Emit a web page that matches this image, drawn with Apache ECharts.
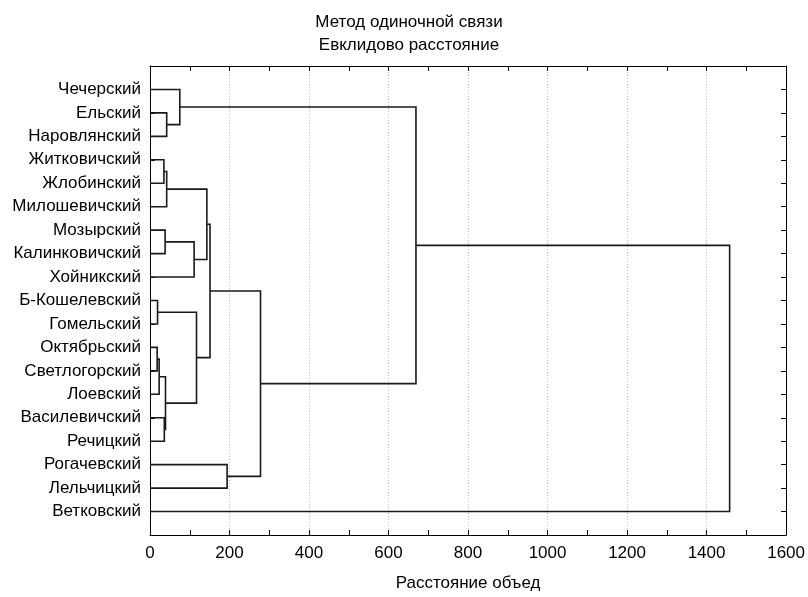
<!DOCTYPE html>
<html>
<head>
<meta charset="utf-8">
<script src="https://cdn.jsdelivr.net/npm/echarts@6.0.0/dist/echarts.min.js"></script>
<style>
  html, body { margin: 0; padding: 0; background: #fff; }
  #chart { width: 808px; height: 597px; }
</style>
</head>
<body>
<div id="chart"></div>
<script>
// листья дендрограммы сверху вниз
const leaves = ['Чечерский', 'Ельский', 'Наровлянский', 'Житковичский', 'Жлобинский',
  'Милошевичский', 'Мозырский', 'Калинковичский', 'Хойникский', 'Б-Кошелевский',
  'Гомельский', 'Октябрьский', 'Светлогорский', 'Лоевский', 'Василевичский',
  'Речицкий', 'Рогачевский', 'Лельчицкий', 'Ветковский']

// пары объединений: индекс < 19 — лист, иначе 19 + номер объединения
const pairs = [
  [11, 12], [9, 10], [19, 13], [3, 4], [14, 15], [6, 7], [21, 23], [22, 5],
  [1, 2], [0, 27], [24, 8], [20, 25], [26, 29], [31, 30], [16, 17], [32, 33],
  [28, 34], [35, 18]
]
// расстояние объединения
const mergeH = [18, 19, 23, 35, 36, 38, 39, 42, 42, 75, 111, 117, 143, 151, 194, 278, 669, 1458]

const xTicks = [0, 200, 400, 600, 800, 1000, 1200, 1400, 1600]

const n = leaves.length
const nodeX = []
const nodeY = []
for (let i = 0; i < n; i++) { nodeX.push(0); nodeY.push(i + 1) }
const links = []
pairs.forEach(([a, b], k) => {
  const h = mergeH[k]
  links.push([nodeX[a], nodeY[a], h, nodeY[b], nodeX[b]])
  nodeX.push(h)
  nodeY.push((nodeY[a] + nodeY[b]) / 2)
})

const font = "'Liberation Sans', Arial, sans-serif"
const fs = 17
const chart = echarts.init(document.getElementById('chart'))

const xBase = {
  type: 'value',
  min: 0,
  max: 1600,
  interval: 200,
  axisLine: { show: true, onZero: false, lineStyle: { color: '#000', width: 1 } },
  axisTick: { show: true, inside: true, length: 5, lineStyle: { color: '#000' } },
  minorTick: { show: true, splitNumber: 2, length: 5, lineStyle: { color: '#000' } }
}
const yBase = {
  type: 'value',
  min: 0,
  max: 20,
  interval: 1,
  inverse: true,
  axisLine: { show: true, onZero: false, lineStyle: { color: '#000', width: 1 } },
  axisTick: { show: true, inside: true, length: 5, lineStyle: { color: '#000' } },
  splitLine: { show: false }
}

chart.setOption({
  animation: false,
  textStyle: { fontFamily: font },
  grid: { left: 150, top: 66, width: 637, height: 471, containLabel: false },
  graphic: [
    { type: 'text', x: 409, y: 22.5, style: { text: 'Метод одиночной связи', fill: '#000', font: fs + 'px ' + font, textAlign: 'center', textVerticalAlign: 'middle' } },
    { type: 'text', x: 409, y: 45, style: { text: 'Евклидово расстояние', fill: '#000', font: fs + 'px ' + font, textAlign: 'center', textVerticalAlign: 'middle' } }
  ],
  xAxis: [
    Object.assign({}, xBase, {
      position: 'bottom',
      name: 'Расстояние объед',
      nameLocation: 'middle',
      nameGap: 40,
      nameTextStyle: { color: '#000', fontSize: fs, fontFamily: font },
      axisLabel: { color: '#000', fontSize: fs, margin: 10, fontFamily: font,
        formatter: v => xTicks.includes(v) ? String(v) : '' },
      splitLine: { show: true, lineStyle: { color: '#bdbdbd', type: [1, 2], width: 1 } }
    }),
    Object.assign({}, xBase, {
      position: 'top',
      axisLabel: { show: false },
      splitLine: { show: false }
    })
  ],
  yAxis: [
    Object.assign({}, yBase, {
      position: 'left',
      axisLabel: { color: '#000', fontSize: fs, margin: 9, fontFamily: font,
        formatter: v => leaves[v - 1] || '' }
    }),
    Object.assign({}, yBase, {
      position: 'right',
      axisLabel: { show: false }
    })
  ],
  series: [{
    type: 'custom',
    xAxisIndex: 0,
    yAxisIndex: 0,
    data: links,
    encode: { x: [0, 2, 4], y: [1, 3] },
    renderItem: (params, api) => {
      const xA = api.value(0), yA = api.value(1), h = api.value(2)
      const yB = api.value(3), xB = api.value(4)
      const pts = [
        api.coord([xA, yA]), api.coord([h, yA]),
        api.coord([h, yB]), api.coord([xB, yB])
      ]
      return {
        type: 'polyline',
        shape: { points: pts },
        style: { stroke: '#1a1a1a', lineWidth: 1.6, fill: null }
      }
    }
  }]
})
</script>
</body>
</html>
